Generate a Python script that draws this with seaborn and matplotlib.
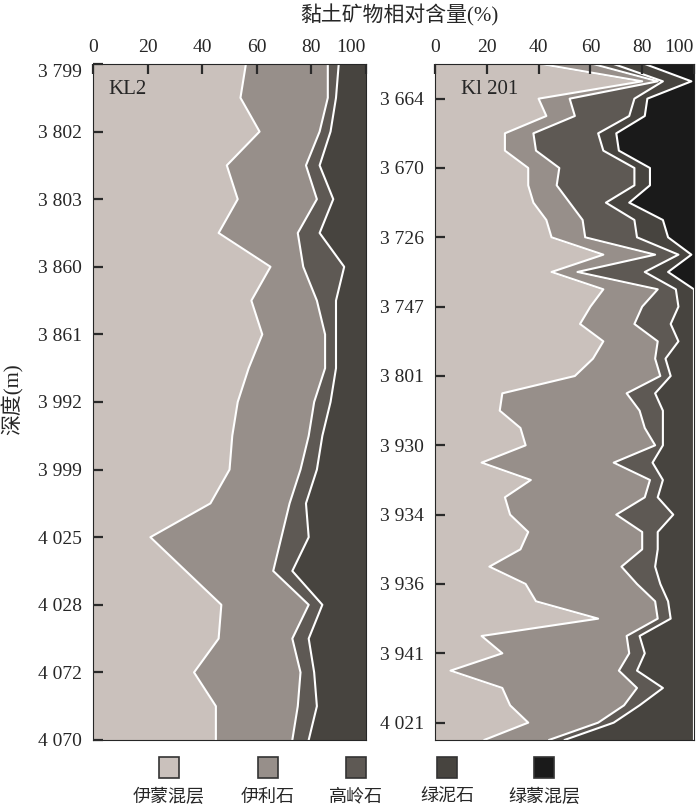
import numpy as np
import matplotlib
matplotlib.use("Agg")
import matplotlib.pyplot as plt
from matplotlib.patches import Rectangle
import seaborn as sns

# ---- datos ----
minerals = ["伊蒙混层", "伊利石", "高岭石", "绿泥石", "绿蒙混层"]
colors = ["#cac1bc", "#978f8a", "#5e5954", "#47443f", "#1a1a1a"]

# KL2: 21 muestras, etiqueta de profundidad cada 2 muestras
kl2_depths = ["3 799", "3 802", "3 803", "3 860", "3 861", "3 992",
              "3 999", "4 025", "4 028", "4 072", "4 070"]
kl2_ims = [56, 54, 61, 49, 53, 46, 65, 58, 62, 57, 53, 51, 50, 43, 21, 34, 47, 46, 37, 45, 45]
kl2_illite = [30, 32, 22, 29, 29, 29, 12, 24, 23, 28, 28, 28, 26, 29, 48, 32, 32, 27, 39, 30, 28]
kl2_kaolinite = [4, 3, 4, 5, 6, 8, 15, 7, 4, 4, 6, 5, 6, 6, 10, 7, 5, 6, 5, 7, 6]
kl2_chlorite = [10, 11, 13, 17, 12, 17, 8, 11, 11, 11, 13, 16, 18, 22, 21, 27, 16, 21, 19, 18, 21]

# Kl201: 40 muestras, etiqueta cada 4 muestras (desde la 3a)
k201_depths = ["3 664", "3 670", "3 726", "3 747", "3 801",
               "3 930", "3 934", "3 936", "3 941", "4 021"]
k201_ims = [41, 80, 40, 43, 27, 27, 36, 36, 38, 43, 45, 65, 45, 65, 60, 56, 65, 61, 54, 26,
            25, 33, 35, 18, 37, 27, 29, 36, 33, 21, 35, 39, 63, 18, 26, 6, 26, 29, 36, 19]
k201_illite = [20, 6, 12, 11, 11, 12, 12, 11, 14, 14, 13, 20, 10, 21, 20, 21, 21, 24, 33, 48,
               54, 48, 50, 51, 46, 54, 41, 44, 47, 51, 43, 46, 23, 56, 49, 65, 52, 44, 27, 25]
k201_kaolinite = [8, 2, 25, 21, 25, 26, 29, 30, 14, 20, 20, 9, 26, 7, 14, 14, 8, 4, 4, 11,
                  9, 7, 3, 15, 5, 5, 22, 6, 6, 13, 9, 5, 5, 5, 6, 7, 10, 6, 6, 6]
k201_chlorite = [12, 11, 5, 6, 7, 6, 6, 6, 9, 11, 12, 5, 9, 7, 6, 9, 6, 11, 9, 15,
                 12, 12, 12, 16, 12, 14, 8, 14, 14, 15, 13, 10, 9, 21, 19, 22, 12, 21, 31, 50]
k201_cs = [19, 1, 18, 19, 30, 29, 17, 17, 25, 12, 10, 1, 10, 0, 0, 0, 0, 0, 0, 0,
           0, 0, 0, 0, 0, 0, 0, 0, 0, 0, 0, 0, 0, 0, 0, 0, 0, 0, 0, 0]

sns.set_style("ticks")
plt.rcParams['font.family'] = ['Liberation Serif', 'Noto Sans CJK SC']
plt.rcParams['axes.unicode_minus'] = False
plt.rcParams['axes.axisbelow'] = False  # seaborn pone los ejes debajo de los rellenos
plt.rcParams['xtick.labelsize'] = 14
plt.rcParams['ytick.labelsize'] = 14
plt.rcParams['xtick.major.pad'] = 6
plt.rcParams['ytick.major.pad'] = 8


def dibujar_panel(ax, partes, nombre, pos_ticks, etiquetas, x_nombre):
    n = len(partes[0])
    idx = np.arange(n)
    acumulado = np.cumsum(np.vstack(partes), axis=0)
    izq = np.zeros(n)
    for i, der in enumerate(acumulado):
        ax.fill_betweenx(idx, izq, der, color=colors[i], zorder=1)
        izq = der
    # bordes blancos entre capas
    for der in acumulado[:-1]:
        sns.lineplot(x=der, y=idx, orient="y", sort=False, color="white",
                     lw=1.5, ax=ax)

    ax.set_xlim(0, 100)
    ax.set_ylim(n - 1, 0)
    ax.xaxis.tick_top()
    ax.set_xticks([0, 20, 40, 60, 80, 100])
    ax.set_yticks(pos_ticks)
    ax.set_yticklabels(etiquetas)
    ax.tick_params(axis="both", direction="in", length=7, width=1.6, color="#2a2a2a")
    ax.xaxis.set_zorder(5)
    ax.yaxis.set_zorder(5)
    ax.set_xlabel("")
    ax.set_ylabel("")
    ax.get_xticklabels()[-1].set_ha("right")
    ax.text(x_nombre, 0.963, nombre, transform=ax.transAxes,
            ha="left", va="center", fontsize=15)


fig = plt.figure(figsize=(7, 8.06), dpi=100)
ax1 = fig.add_axes([0.1329, 0.0819, 0.39, 0.8387])
ax2 = fig.add_axes([0.6214, 0.0819, 0.37, 0.8387])

dibujar_panel(ax1, [kl2_ims, kl2_illite, kl2_kaolinite, kl2_chlorite], "KL2",
              list(range(0, 21, 2)), kl2_depths, 0.055)
ax1.get_yticklabels()[0].set_va("top")

dibujar_panel(ax2, [k201_ims, k201_illite, k201_kaolinite, k201_chlorite, k201_cs],
              "Kl 201", list(range(2, 40, 4)), k201_depths, 0.1)

fig.text(0.571, 0.981, "黏土矿物相对含量(%)", ha="center", va="center", fontsize=15)
fig.text(0.018, 0.505, "深度(m)", ha="center", va="center", rotation=90, fontsize=15)

# --- leyenda manual (etiqueta debajo del cuadro) ---
xs = [169, 268, 356, 447, 544]
for x, nombre, c in zip(xs, minerals, colors):
    fig.patches.append(Rectangle(((x - 10) / 700, 1 - 778 / 806), 20 / 700, 21 / 806,
                                 transform=fig.transFigure, facecolor=c,
                                 edgecolor="#333333", lw=1.2))
    fig.text(x / 700, 1 - 797 / 806, nombre, ha="center", va="center", fontsize=13)

fig.savefig("out.png", dpi=100)
